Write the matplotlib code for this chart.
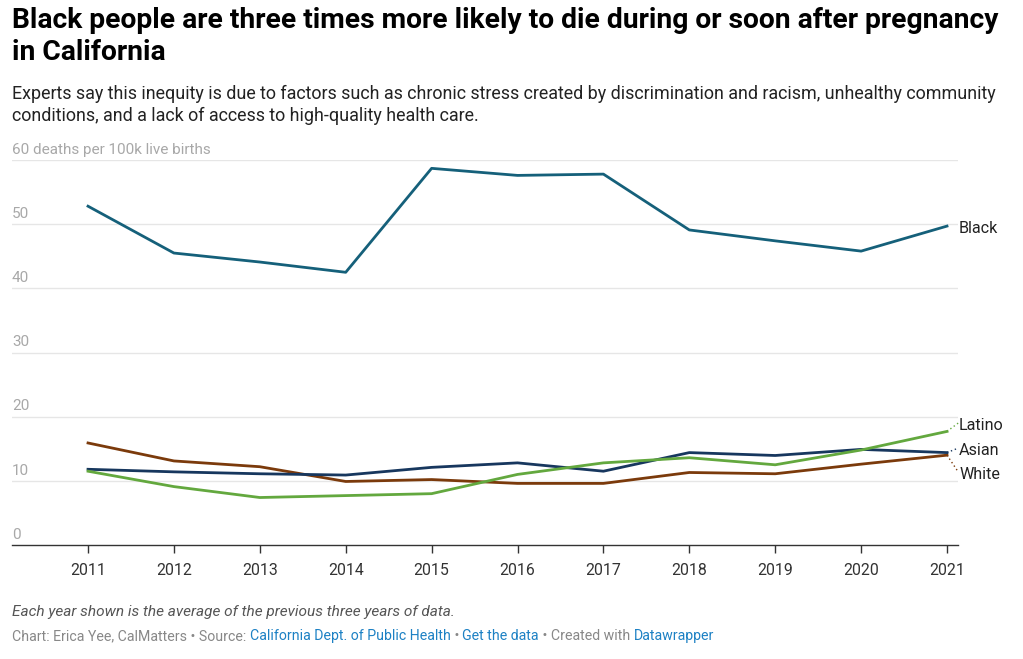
import matplotlib
matplotlib.use("Agg")
import matplotlib.pyplot as plt

plt.rcParams['font.family'] = ['Roboto', 'DejaVu Sans']

years = [2011, 2012, 2013, 2014, 2015, 2016, 2017, 2018, 2019, 2020, 2021]
black = [52.8, 45.5, 44.1, 42.5, 58.7, 57.6, 57.8, 49.1, 47.4, 45.8, 49.7]
latino = [11.5, 9.1, 7.4, 7.7, 8.0, 11.0, 12.8, 13.6, 12.5, 14.8, 17.7]
asian = [11.8, 11.4, 11.1, 10.9, 12.1, 12.8, 11.5, 14.4, 13.95, 14.9, 14.4]
white = [15.9, 13.1, 12.2, 9.9, 10.2, 9.6, 9.6, 11.3, 11.1, 12.6, 14.0]
yticks = [0, 10, 20, 30, 40, 50, 60]
ytick_labels = ["0", "10", "20", "30", "40", "50", "60 deaths per 100k live births"]

series = [
    ("Black", black, "#15607a"),
    ("White", white, "#7b3a0b"),
    ("Asian", asian, "#17375e"),
    ("Latino", latino, "#63a83e"),
]
label_y = {"Black": 49.3, "Latino": 18.6, "Asian": 14.7, "White": 11.0}

W, H = 1023, 659
fig = plt.figure(figsize=(W / 100, H / 100), dpi=100)
ax = fig.add_axes([12 / W, 1 - 545 / H, (958 - 12) / W, (545 - 160) / H])
ax.set_xlim(2010.115, 2021.128)
ax.set_ylim(0, 60)

for v, lab in zip(yticks, ytick_labels):
    if v > 0:
        ax.axhline(v, color="#e6e6e6", lw=1, zorder=0)
    ax.text(0, v + 0.5, lab, transform=ax.get_yaxis_transform(),
            ha="left", va="bottom", fontsize=11, color="#a8a8a8")

for name, vals, col in series:
    ax.plot(years, vals, color=col, lw=2, solid_joinstyle="round", zorder=3)
    ly = label_y[name]
    if name != "Black":
        ax.plot([years[-1], 2021.13], [vals[-1], ly + 0.4], color=col, lw=1, ls=(0, (1, 2)),
                clip_on=False, zorder=2)
    ax.text(2021.14, ly, name, ha="left", va="center", fontsize=11.6, color="#222222",
            clip_on=False)

for s in ["top", "right", "left"]:
    ax.spines[s].set_visible(False)
ax.spines["bottom"].set_color("#333333")
ax.spines["bottom"].set_linewidth(1)
ax.set_yticks([])
ax.set_xticks(years)
ax.set_xticklabels([str(y) for y in years], fontsize=11.4, color="#333333")
ax.tick_params(axis="x", length=6, width=1, color="#333333", pad=7)

fig.text(12 / W, 1 - 20 / H, "Black people are three times more likely to die during or soon after pregnancy",
         fontsize=20.3, fontweight="bold", color="#000000", ha="left", va="center")
fig.text(12 / W, 1 - 52 / H, "in California",
         fontsize=20.3, fontweight="bold", color="#000000", ha="left", va="center")
fig.text(12 / W, 1 - 94 / H,
         "Experts say this inequity is due to factors such as chronic stress created by discrimination and racism, unhealthy community",
         fontsize=12.87, color="#222222", ha="left", va="center")
fig.text(12 / W, 1 - 116 / H,
         "conditions, and a lack of access to high-quality health care.",
         fontsize=12.87, color="#222222", ha="left", va="center")
fig.text(12 / W, 1 - 612 / H, "Each year shown is the average of the previous three years of data.",
         fontsize=11.1, style="italic", color="#555555", ha="left", va="center")

# credit line with colored segments
parts = [
    ("Chart: Erica Yee, CalMatters \u2022 Source: ", "#888888"),
    ("California Dept. of Public Health", "#1d81c4"),
    (" \u2022 ", "#888888"),
    ("Get the data", "#1d81c4"),
    (" \u2022 Created with ", "#888888"),
    ("Datawrapper", "#1d81c4"),
]
fig.canvas.draw()
renderer = fig.canvas.get_renderer()
x = 12 / W
for txt, col in parts:
    t = fig.text(x, 1 - 640 / H, txt, fontsize=10.2, color=col, ha="left", va="baseline")
    bb = t.get_window_extent(renderer=renderer)
    x += bb.width / W

fig.savefig("out.png", dpi=100)
